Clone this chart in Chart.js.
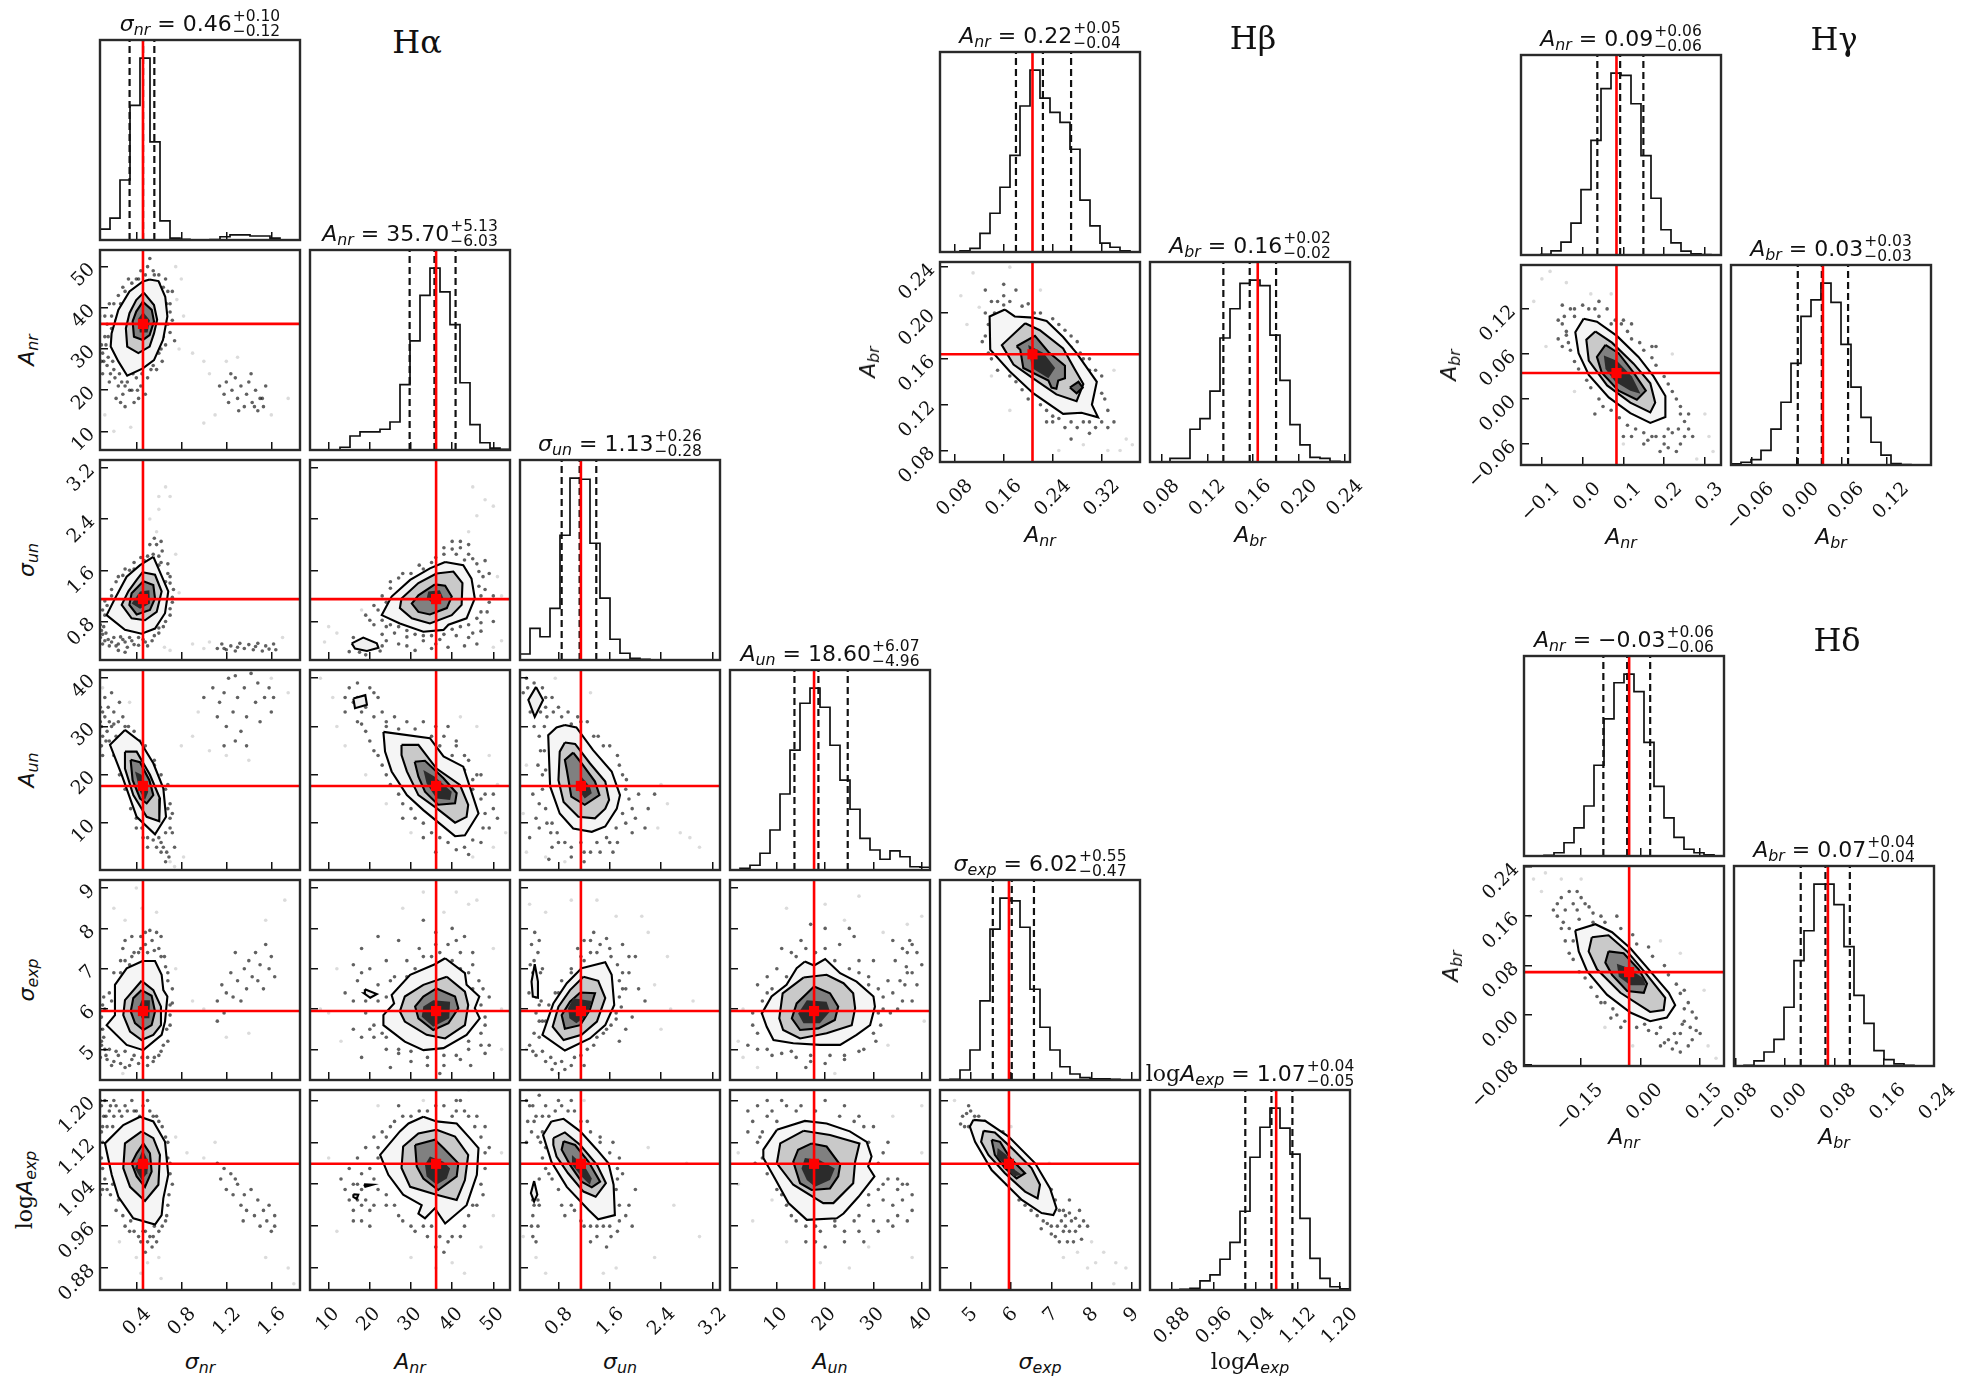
<!DOCTYPE html>
<html>
<head>
<meta charset="utf-8">
<script src="https://cdn.jsdelivr.net/npm/chart.js@4"></script>
<style>
body { margin: 0; background: #fff; }
#page { position: relative; width: 1987px; height: 1390px; overflow: hidden; background: #fff; }
canvas { position: absolute; }
.txt { position: absolute; white-space: nowrap; color: #111; font-family: "DejaVu Sans"; line-height: 1; }
.txt i { font-style: oblique; }
.txt sub { font-size: .72em; font-style: oblique; vertical-align: -.28em; line-height: 0; }
.log { font-family: "DejaVu Serif"; }
.ss { display: inline-flex; flex-direction: column; vertical-align: 10px; font-size: 15.5px; line-height: .98; margin-left: 1px; text-align: left; }
.title { font-size: 22px; transform: translateX(-50%); }
.xlab { font-size: 22px; transform: translate(-50%, -50%); }
.ylab { font-size: 22px; transform: translate(-50%, -50%) rotate(-90deg); }
.head { font-family: "DejaVu Serif"; font-size: 32px; transform: translate(-50%, -50%); }
</style>
</head>
<body>
<div id="page"></div>
<script>
// tick values
const ticks_snr = [0.4, 0.8, 1.2, 1.6];
const ticks_anr = [10, 20, 30, 40, 50];
const ticks_sun = [0.8, 1.6, 2.4, 3.2];
const ticks_aun = [10, 20, 30, 40];
const ticks_sexp = [5, 6, 7, 8, 9];
const ticks_la = [0.88, 0.96, 1.04, 1.12, 1.20];
const ticks_anr_b = [0.08, 0.16, 0.24, 0.32];
const ticks_abr_b = [0.08, 0.12, 0.16, 0.20, 0.24];
const ticks_anr_g = [-0.1, 0.0, 0.1, 0.2, 0.3];
const ticks_abr_g = [-0.06, 0.00, 0.06, 0.12];
const ticks_anr_d = [-0.15, 0.00, 0.15];
const ticks_abr_d = [-0.08, 0.00, 0.08, 0.16, 0.24];

// histograms, 20 bins over the axis range, peak = 100
const hist_snr = [6,12,33,74,100,54,10.5,1,0.3,0,0,0.2,1.8,2.8,2.8,2.2,2.2,1,0,0];
const hist_anr = [0,0,0,1.5,7.7,10,10,11.4,15.4,36,60,85,100,87,69,37,14,4,1,0.4];
const hist_sun = [3.3,17.4,12.8,28.4,68.6,100,99.4,64.2,34,11.4,3.7,0.9,0.4,0,0,0,0,0,0,0];
const hist_aun = [0,0.9,2.6,9.2,22,41.8,65.9,91.7,100,89.5,68.6,49.4,33.4,17.4,11,5.9,10.5,7.3,1.8,1.5];
const hist_sexp = [0,0.4,5.5,16.5,43.5,83,100,98.5,84,49.9,29,16.5,7.3,3.3,1.3,0.6,0.6,0.3,0,0];
const hist_la = [0,0,0,0.4,0.9,5,8.3,16.9,26.2,43.3,73,89.5,100,89,74.7,39.4,17.4,6.4,1.8,0.6];
const hist_anr_b = [0,0,0.6,2,10.2,21.3,35.6,53.1,80.3,100,84.6,76.8,71.3,56.5,28.5,14.4,4.9,2.6,0.6,0];
const hist_abr_b = [0,0,2,2,18,23.9,39,68.2,84.3,98.2,100,97,69.8,44.9,20.6,9.4,2.5,2,0.4,0];
const hist_anr_g = [0,0,0.4,2.3,7.1,17.5,36,63,91.5,100,98.8,83.2,54.7,31.2,13.9,6.7,2.1,0.6,0.2,0];
const hist_abr_g = [0.6,1.5,3,8,19.7,34.5,55.9,81.7,90.8,100,89.4,66.3,42.8,26.2,12.5,5.4,0.8,0.2,0,0];
const hist_anr_d = [0,0,0.4,1.8,7.3,15.5,27.5,49.9,75.4,95.3,100,90.4,62.5,38.3,21,10.2,3.7,1.8,0.6,0];
const hist_abr_d = [0,0.4,2.8,7.7,14.6,32.3,58,74.4,100,100,88.8,65.7,38.8,23.4,8.5,3.5,1.2,0.4,0,0];

// density contours, flat x,y lists: outer, middle, inner, darkest core
const cont_anr_snr = [
 [.518,46.9,.597,46.5,.657,42.7,.676,37.9,.637,32.2,.557,27.3,.458,25.3,.319,23.5,.24,27,.172,30.6,.18,33.8,.24,39.5,.339,44,.458,46.4],
 [.466,43.7,.557,40.7,.585,37.1,.557,33.8,.518,30.6,.418,29,.319,30.6,.307,35,.339,38.7,.399,41.9],
 [.458,41.5,.537,39.5,.557,36.7,.518,33.4,.458,32.2,.379,33,.367,36.7,.399,39.1],
 [.46,39,.52,37,.5,34,.43,34,.42,37.5]];
const cont_sun_snr = [
 [.551,1.81,.596,1.63,.684,1.27,.655,.93,.566,.69,.447,.61,.299,.67,.136,.9,.21,1.16,.314,1.5,.433,1.68],
 [.456,1.57,.566,1.53,.625,1.27,.581,.95,.477,.82,.358,.85,.27,1.06,.329,1.27,.403,1.45],
 [.462,1.43,.551,1.37,.566,1.16,.521,.98,.403,.91,.338,1.06,.358,1.24],
 [.433,1.27,.516,1.29,.521,1.08,.433,1,.358,1.08]];
const cont_sun_anr = [
 [38.3,1.73,42.7,1.68,44.7,1.47,45.5,1.16,43.5,.85,39.1,.75,37.9,.67,33,.64,27.3,.77,22.9,.9,25.3,1.19,29.8,1.45,34.6,1.63],
 [36.2,1.55,40.3,1.58,42.5,1.4,42.3,1.06,39.9,.9,34.6,.77,30.2,.85,27.3,1.01,27.7,1.16,31.8,1.4],
 [35.8,1.38,38.3,1.36,39.9,1.19,38.7,1.01,34.6,.91,31.8,.95,30.2,1.08,31.8,1.21],
 [34.2,1.27,37,1.29,37.9,1.16,35.4,1.08,33.8,1.16]];
const isle_sun_anr = [15.6,.46,18.4,.55,21.7,.46,22.1,.39,19.3,.34,16.4,.38];
const cont_aun_snr = [
 [.299,29.3,.433,26.9,.551,22.4,.64,17.2,.664,11.3,.566,7.7,.403,11.3,.27,20,.166,26.2],
 [.299,24.8,.403,24.8,.521,20,.61,15.1,.604,10.4,.492,11.3,.373,15.8,.299,21.3],
 [.349,23.1,.433,22.6,.516,18.9,.551,15.8,.492,14.1,.433,15.1,.367,18.9],
 [.388,20.7,.447,20,.506,16.5,.477,14.8,.433,16.5]];
const cont_aun_anr = [
 [23.3,28.9,34.6,27.6,37.9,23.8,42.7,21.7,46.4,12,43.1,7.5,40.7,7.3,33,12.7,29,15.8,25.3,20.7,23.7,24.8],
 [27.7,26.2,31.8,26.2,36.2,21.3,41.9,17.9,43.9,13.8,43.5,11.3,40.7,10.1,36.2,13.1,31.8,15.8,29,20.7,27.7,24.1],
 [30.9,22.7,33.4,22.9,37.9,19.3,41.1,16.2,40.7,14.1,36.6,13.8,33.4,16.5,31.8,19.6],
 [33,21,35.8,19.6,39.9,16.5,39.5,14.8,36.2,15.1,33.8,18.2]];
const isle_aun_anr = [16,35.8,18.9,36.5,19.3,34.5,16.4,33.8];
const cont_aun_sun = [
 [.9,30.3,1.08,29.8,1.34,25.1,1.63,20.7,1.76,15.8,1.71,13,1.53,9.3,1.32,8.2,1.03,8.9,.82,12,.67,17.6,.64,28.2,.77,29.8],
 [.9,26.7,1.06,26.4,1.29,22.4,1.53,18.6,1.59,14.8,1.53,13,1.37,11,1.11,11.3,.88,14.4,.8,18.9,.82,24.8],
 [1.03,24.6,1.16,22.4,1.37,18.6,1.44,15.8,1.21,13.8,1,15.5,.93,21,.9,23.1],
 [1.16,19.6,1.29,17.6,1.32,16.2,1.21,15.1,1.11,16.9]];
const isle_aun_sun = [.45,38.2,.56,35.5,.43,32,.33,35.5];
const cont_sexp_snr = [
 [.456,7.19,.566,7.19,.625,6.85,.64,6.47,.676,6.31,.655,5.69,.625,5.36,.462,4.98,.314,5.11,.136,5.6,.21,5.85,.21,6.6,.314,7.01],
 [.447,6.7,.551,6.47,.619,6.06,.619,5.6,.551,5.36,.447,5.23,.344,5.44,.284,5.85,.299,6.22],
 [.447,6.47,.536,6.33,.566,5.94,.536,5.6,.462,5.48,.388,5.65,.35,5.94,.373,6.27],
 [.447,6.22,.521,6.22,.516,5.77,.447,5.77,.418,6.02]];
const cont_sexp_anr = [
 [38.3,7.26,43.1,6.89,43.5,6.6,46.6,6.31,45.5,6.02,46.7,5.77,43.5,5.36,37.9,5.03,33,4.98,28.5,5.19,23.3,5.6,23.3,5.85,25.9,6.14,25.3,6.35,29.8,6.85,35.8,7.11],
 [38.7,6.8,43.1,6.43,43.9,6.1,43.1,5.6,38.3,5.27,33.8,5.36,28.5,5.69,27.3,5.94,28.5,6.31,33,6.6],
 [36.2,6.51,40.7,6.31,41.5,6.02,39.1,5.65,35.4,5.48,31.8,5.77,31,6.06,33,6.31],
 [35.4,6.22,39.5,6.18,39.3,5.77,35.4,5.56,32.6,5.81,33,6.06]];
const isle_sexp_anr = [18.8,6.49,21.7,6.37,20.1,6.28,18.6,6.39];
const cont_sexp_sun = [
 [1.16,7.01,1.53,7.16,1.63,6.85,1.67,6.1,1.53,5.6,1.29,5.27,.9,4.97,.55,5.36,.72,6.14,.93,6.64],
 [1.19,6.8,1.42,6.7,1.53,6.27,1.4,5.69,1.16,5.36,.88,5.23,.71,5.56,.8,6.06,.98,6.47],
 [1.14,6.41,1.37,6.39,1.29,5.98,1.14,5.6,.9,5.51,.85,5.85,.98,6.18],
 [1.03,6.27,1.32,6.2,1.25,5.85,1.08,5.65,.97,5.77,.95,6.02]];
const isle_sexp_sun = [.43,7.11,.48,6.68,.48,6.28,.4,6.31,.38,6.68];
const cont_sexp_aun = [
 [15.8,7.18,17.7,7.08,20,7.24,23.1,6.89,26.5,6.68,30,6.31,30.3,6.06,29.3,5.6,26.5,5.36,23.1,5.11,18.9,5.11,13.4,5.15,9.3,5.23,7.9,5.56,6.9,5.89,8.9,6.31,12,6.6,14.1,7.01],
 [15.5,6.78,20.3,6.85,23.8,6.64,25.8,6.39,26.2,6.02,25.5,5.6,20.3,5.4,14.8,5.27,11.3,5.48,10.5,5.77,11.2,6.39],
 [17.7,6.56,21,6.39,22.7,6.06,22,5.73,18.6,5.52,14.8,5.48,13.1,5.77,14.1,6.14],
 [16.2,6.22,20.3,6.18,21,5.94,18.9,5.65,15.5,5.65,14.4,5.89]];
const cont_la_snr = [
 [.433,1.169,.551,1.16,.655,1.121,.684,1.058,.64,1.013,.625,.981,.566,.963,.373,.975,.24,1.016,.181,1.058,.121,1.118,.284,1.153],
 [.447,1.141,.551,1.128,.61,1.096,.596,1.039,.477,1.008,.344,1.035,.284,1.071,.299,1.118],
 [.462,1.118,.521,1.099,.536,1.064,.477,1.035,.403,1.055,.358,1.08,.403,1.099],
 [.456,1.106,.507,1.083,.498,1.061,.447,1.048,.388,1.07]];
const cont_la_anr = [
 [33,1.169,36.2,1.16,41.1,1.156,44.3,1.128,46.4,1.109,46,1.058,43.5,1,38.3,.965,35.8,.994,33.4,.975,31.8,.984,32.6,1,28.1,1.02,24.5,1.058,22.5,1.096,27.3,1.141,29.4,1.156],
 [36.2,1.144,40.7,1.131,43.9,1.096,43.1,1.048,41.1,1.01,36.2,1.02,29.8,1.035,27.7,1.071,28.1,1.112,31.8,1.137],
 [31,1.115,35.8,1.125,37.9,1.109,41.5,1.08,41.1,1.055,36.6,1.029,33,1.051,31.4,1.074],
 [34.6,1.093,37.9,1.083,39.5,1.07,38.7,1.051,36.2,1.039,33.8,1.055,33.4,1.077]];
const isle_la_anr = [16,1.021,17.2,1.02,16.8,1.012,16,1.016];
const isle2_la_anr = [18.6,1.04,20.7,1.039,18.9,1.035];
const cont_la_sun = [
 [.69,1.16,.88,1.165,1.14,1.141,1.4,1.106,1.58,1.08,1.66,1.039,1.68,.981,1.42,.973,1.27,.991,.93,1.035,.69,1.083,.56,1.134],
 [.72,1.128,.9,1.139,1.14,1.115,1.4,1.077,1.54,1.042,1.38,1.016,1.19,1.026,.95,1.061,.77,1.093,.72,1.115],
 [.88,1.122,1.06,1.115,1.27,1.083,1.45,1.045,1.32,1.034,1.16,1.045,.98,1.077,.85,1.106],
 [1.01,1.096,1.21,1.074,1.32,1.051,1.29,1.039,1.16,1.055,1.01,1.077]];
const isle_la_sun = [.42,1.046,.47,1.02,.42,1.007,.37,1.023];
const cont_la_aun = [
 [10,1.144,15.8,1.161,20.3,1.156,25.1,1.141,28.6,1.121,29.6,1.093,28.9,1.074,30.2,1.055,26.9,1.016,23.8,.984,22.4,.975,16.2,.972,12.4,1.004,9.6,1.051,7.2,1.09,7.2,1.106],
 [15.5,1.142,21,1.134,27.1,1.118,26.2,1.083,25.8,1.042,21.7,1.004,19.6,1.004,13.4,1.039,10,1.08,10.7,1.118],
 [17.2,1.118,20.3,1.112,23.1,1.077,22.7,1.055,21,1.032,17.2,1.029,14.8,1.042,13.4,1.083,14.4,1.106],
 [15.8,1.09,18.9,1.086,22,1.07,21,1.048,17.9,1.035,16.2,1.048,15.1,1.07]];
const cont_la_sexp = [
 [5.07,1.163,5.36,1.161,5.94,1.131,6.6,1.08,6.97,1.032,7.13,.994,7.05,.981,6.76,.985,6.27,1.01,5.52,1.067,5.11,1.121,4.98,1.15],
 [5.32,1.142,5.6,1.139,6.02,1.109,6.51,1.071,6.72,1.039,6.66,1.013,6.35,1.026,5.85,1.061,5.44,1.096,5.26,1.121],
 [5.52,1.125,5.73,1.121,5.98,1.09,6.35,1.061,6.14,1.051,5.85,1.071,5.6,1.096],
 [5.67,1.109,5.89,1.096,6.1,1.067,6.27,1.058,6.06,1.055,5.81,1.08,5.65,1.093]];
const cont_b = [
 [.162,.203,.178,.197,.208,.196,.23,.193,.257,.179,.279,.165,.312,.14,.304,.12,.314,.109,.287,.113,.257,.112,.208,.13,.17,.149,.138,.168,.137,.197],
 [.195,.191,.219,.185,.257,.169,.276,.151,.29,.138,.279,.123,.246,.129,.208,.143,.176,.155,.157,.172],
 [.181,.171,.211,.18,.233,.166,.26,.154,.26,.143,.249,.141,.246,.134,.238,.135,.233,.141,.192,.152,.187,.168],
 [.2,.172,.225,.165,.244,.152,.233,.143,.206,.152]];
const isle_b = [.268,.135,.282,.14,.289,.135,.279,.13];
const cont_g = [
 [.0025,.107,.035,.103,.084,.084,.137,.056,.174,.03,.203,.004,.203,-.024,.166,-.032,.117,-.019,.064,.002,.015,.032,-.01,.061,-.018,.089],
 [.031,.09,.072,.075,.125,.047,.166,.021,.178,-.005,.166,-.018,.117,-.005,.06,.018,.015,.051,.009,.079],
 [.056,.072,.088,.061,.125,.035,.155,.011,.133,-.001,.088,.011,.047,.035,.035,.056],
 [.052,.058,.084,.051,.121,.03,.142,.007,.117,.011,.08,.023,.056,.04]];
const cont_d = [
 [-.165,.137,-.114,.147,-.072,.134,-.026,.108,.024,.071,.071,.036,.087,.016,.066,-.004,.024,-.01,-.026,.004,-.085,.033,-.135,.071,-.156,.103],
 [-.123,.126,-.081,.129,-.034,.103,.016,.065,.062,.028,.058,.008,.024,.005,-.051,.036,-.11,.074,-.131,.103],
 [-.081,.103,-.043,.1,-.005,.074,.016,.051,.008,.036,-.034,.039,-.072,.065,-.089,.085],
 [-.06,.083,-.034,.077,.008,.059,.012,.048,-.026,.048,-.055,.062]];

// samples outside the contours, read by eye
const dark_anr_snr = [.12,33,.1,29,.14,26,.1,24,.16,22,.2,25,.24,21,.28,19,.22,18,.32,22,.36,20,.4,23,.44,21,.5,23,.55,26,.6,29,.63,27,.66,31,.7,34,.72,37,.7,41,.68,44,.66,47,.6,48,.55,49,.5,50,.44,49,.4,47,.33,47,.28,45,.24,43,.2,41,.18,38,.14,36,.09,31,.3,16,.42,18,.62,44,.52,52,
 1.14,21,1.18,19,1.2,22,1.22,17,1.25,20,1.28,23,1.3,18,1.33,21,1.36,16,1.38,19,1.4,22,1.43,17,1.46,20,1.48,15,1.5,18,1.53,16,1.55,21,1.42,24,1.31,15,1.24,24,1.52,18,1.45,16,
 .11,27,.13,31,.15,28,.17,24,.19,27,.21,23,.25,24,.27,22,.3,21,.34,20,.37,24,.41,20,.45,24,.48,19,.53,25,.58,25,.62,30,.64,33,.68,36,.7,39,.67,41,.64,45,.6,46,.56,48,.48,48,.42,47,.36,46,.3,44,.26,41,.22,37,.18,35,.15,33,.12,38,.16,41,.09,27,.26,17,.38,17,.33,25,.74,32,.72,44];
const light_anr_snr = [.08,38,.76,42,.82,38,.9,29,1,27,1.05,24,1.1,14,1.2,27,1.3,28,1.6,14,1.75,18,.8,47,.75,50,.35,11,.2,10,.12,14,.78,30,1,12];
const dark_sun_snr = [.1,.6,.08,.75,.12,.5,.16,.42,.2,.55,.24,.45,.28,.52,.32,.4,.36,.5,.42,.43,.48,.48,.54,.5,.6,.62,.64,.72,.7,.9,.72,1.1,.73,1.3,.7,1.5,.68,1.7,.63,1.9,.58,2,.52,2,.47,1.75,.38,1.72,.3,1.62,.24,1.5,.18,1.3,.12,1.12,.1,.98,.66,1.42,.6,1.82,
 1.12,.38,1.16,.45,1.2,.36,1.24,.42,1.28,.34,1.32,.46,1.36,.38,1.4,.44,1.44,.36,1.48,.46,1.52,.34,1.55,.42,1.58,.37,1.62,.45,1.64,.36,1.3,.4,1.18,.38,1.46,.41,
 .09,.66,.11,.72,.13,.62,.15,.52,.18,.48,.22,.42,.26,.56,.3,.48,.34,.55,.38,.44,.42,.55,.46,.52,.5,.42,.56,.58,.6,.7,.66,.8,.7,1,.72,1.18,.7,1.4,.68,1.55,.62,1.72,.6,1.68,.55,1.85,.5,1.82,.44,1.8,.38,1.62,.34,1.6,.28,1.52,.22,1.42,.18,1.2,.14,1.05,.12,.9,.08,.55,.1,.45,.24,.35,.3,.32,.56,2.1,.62,2.05];
const light_sun_snr = [.52,2.4,.6,2.55,.66,2.9,.7,2.75,.6,2.75,.58,2.2,.75,1.85,.78,1.25,.9,.45,1,.38,1.05,.48,1.7,.55,.65,.4,.7,.35];
const dark_sun_anr = [22,.98,20,.82,19,.9,21,.75,24,.72,26,.62,29,.56,33,.5,37,.52,41,.58,45,.62,47,.78,48.5,.95,49,1.1,48,1.3,47.5,1.5,46,1.7,44,1.85,40,1.93,36,1.8,32,1.68,28,1.55,25,1.42,42,2.05,38,1.95,23,.6,27,.45,31,.35,43,.42,46,.45,50,.8,49,1.55,16,.55,21,.42,19,.28,15,.33,24,.5,39,.4,35,.38,
 23,.82,25,.75,27,.72,29,.66,31,.6,33,.58,35,.58,38,.6,40,.68,42,.72,44,.75,46,.85,47,.95,47,1.2,46.5,1.35,46.5,1.58,45,1.78,43,1.76,41,1.85,38,1.85,35,1.72,33,1.62,30,1.55,27,1.48,25,1.32,23,1.2,21,1.05,24,1.1,36,.45,44,.55,47,.65,42,1.95,44,2,40,2.05,48,1.75,50,1.2,29,.42,23,.42,17.5,.32,22.5,.34];
const light_sun_anr = [44,2.2,46,2.45,48,2.7,45,2.9,50,2.6,51,1.5,52,1.2,12,.62,10,.72,9,.48,18,.98,28,1.3,52,.5,50,.4];
const dark_aun_snr = [.09,30,.12,32,.1,28,.15,34,.2,33,.24,31,.28,32,.33,30,.38,29,.43,27,.48,26,.56,23,.62,20,.68,18,.7,14,.72,12,.7,9,.62,6,.58,5,.5,5,.46,7,.4,9,.35,13,.3,17,.25,20,.2,24,.13,27,.09,26,.64,5,.67,4,.69,3,.56,22,
 1,36,1.08,38,1.14,35,1.12,32,1.18,37,1.2,30,1.22,40,1.26,33,1.3,36,1.33,29,1.36,38,1.38,32,1.42,41,1.46,35,1.48,39,1.5,31,1.54,36,1.58,38,1.6,33,1.62,36,1.28,27,1.38,26,1.18,26,1.28,40.5,
 .1,24,.14,29,.18,30,.22,28,.26,28,.3,30,.35,27.5,.4,26,.44,24.5,.5,24,.55,21.5,.6,19,.66,17,.68,13,.7,11,.66,8,.6,7,.55,6.5,.5,7,.45,9,.4,11,.36,15,.32,18,.28,22,.23,24,.16,27,.1,33,.16,31,.2,30.5,.62,4,.72,8,.74,5,.66,2,.08,31,.12,36,.18,37,.25,35,.08,34];
const light_aun_snr = [.7,2,.74,1,.82,3,.95,33,.9,28,.8,26,1.05,25,1.2,24,1.4,23,1.6,40,1.75,37,.34,35,.1,38];
const dark_aun_anr = [15,38,17,39,20,38,22,36,14,33,17,31,19,29,21,32,23,33,26,32,29,31,33,31,36,30,38,28,41,26,44,23,46,20,48,16,50,13,49,9,47,6,43,5,39,6,35,8,31,11,28,14,25,18,23,22,21,25,19,34,14,36,24,30,43,24,45,17,
 24,31,27,29.5,31,29.5,35,28,37,26,40,24,43,21,45,19,47,15,48,12,47.5,9,45,6.5,41,4.5,37,7,33,10,30,13,27,16,24,20,22,24,20,27,18,33,16,35,21,37,24,27,26,24,17,36,18,30.5,50,16,47,20,51,11,36,4,33,7,28,11,44,3.5,41,27,39,30];
const light_aun_anr = [11,36,8,40,12,30,14,26,19,20,24,14,30,8,45,3,50,5,53,8,51,18,49,24,46,30,42,32];
const dark_aun_sun = [.3,40,.42,39,.55,38,.48,35,.25,37,.62,32,.36,33,.42,30,.5,28,.58,25,.6,21,.55,17,.6,13,.7,10,.78,8,.9,6,1,5,1.2,4,1.4,6,1.55,7,1.7,9,1.8,12,1.9,15,1.86,19,1.75,22,1.6,26,1.42,28,1.25,31,1.1,32,.95,33,.8,34,.7,36,2,11,2.2,13,1.95,8,1.65,4,.4,16,.35,7,
 .45,36,.52,33,.32,38,.38,35.5,.6,36,.58,30,.52,25,.48,22,.55,20,.5,14,.62,10,.68,8,.8,6,1,3,1.15,6,1.3,4,1.45,4,1.6,6,1.72,6,1.85,10,1.95,13,1.85,17,1.8,20,1.72,24,1.5,26,1.35,28,1.15,31,1,30.5,.85,32,.72,33,.6,34,2.05,16,2.15,9,.5,9,.7,5,.45,11,.65,2.5,1.2,2,2.3,16];
const light_aun_sun = [.25,12,.3,4,.6,3,.9,2,2.35,9,2.5,14,2.7,8,3,5,2.4,18,2.85,7,.3,22,.75,40,1.3,37];
const dark_sexp_snr = [.1,5.5,.12,5,.08,4.8,.14,4.75,.2,4.7,.24,4.85,.3,4.55,.36,4.75,.42,4.65,.5,4.6,.56,4.8,.62,4.95,.68,5.2,.7,5.6,.7,6.1,.72,6.5,.68,6.9,.65,7.3,.6,7.5,.54,7.7,.48,7.9,.44,7.5,.38,7.4,.3,7.7,.26,7.2,.2,6.9,.16,6.4,.1,6.1,.09,5.8,.34,7.1,.58,7.9,
 1.12,6.2,1.16,6.6,1.2,6.4,1.24,6.9,1.26,6.3,1.3,6.7,1.33,6.2,1.36,7,1.38,6.5,1.4,7.2,1.43,6.8,1.46,7.4,1.48,6.7,1.5,7.1,1.53,6.5,1.55,7.6,1.58,7,1.6,7.3,1.63,6.8,1.28,7.4,1.18,5.9,1.12,5.7,
 .11,5.3,.13,4.85,.16,5,.18,4.6,.22,4.95,.26,4.65,.3,4.95,.34,4.6,.38,4.85,.45,4.8,.5,4.8,.55,4.7,.6,4.85,.64,5.1,.67,5.5,.7,5.85,.72,6.15,.68,6.7,.66,7.05,.62,7.3,.56,7.45,.5,7.4,.42,7.4,.36,7.3,.3,7.2,.26,6.9,.22,6.6,.18,6.2,.12,6,.08,5.5,.09,5.1,.52,7.95,.44,7.8,.36,7.8,.28,7.5,.62,7.8,.48,7.6,.09,5.2,.11,6.3];
const light_sexp_snr = [.3,8.2,.45,8.5,.4,9,.58,8.4,.2,8.5,.75,7,.9,6.2,1,6,1.2,5.3,1.4,5.4,1.55,8.2,1.72,8.7,.28,4.4];
const dark_sexp_anr = [16,7.1,18,7.5,20,7,22,7.8,24,7.2,14,6.4,17,6.7,22,6.2,19,5.9,16,5.5,21,5.3,24,5,27,4.9,30,4.7,34,4.6,38,4.6,42,4.75,44,5,47,5.4,48,5.8,49,6.3,46.5,6.7,45,7.1,42,7.4,39,7.6,36,7.9,32,7.5,29,7.2,26,6.8,27,7.7,40,8,43,7.8,37,4.4,25,4.55,18,4.8,48,4.9,33,8.2,
 18,6.9,20,6.4,22,6.6,24,6.3,25,6.7,27,6.5,29,6.8,31,7,33,7.3,35,7.3,37,7.4,40,7.2,42,7,44,6.9,45,6.5,47.5,6.5,47,6.1,48,5.6,47,5.1,44,5.2,41,4.85,38,4.85,34,4.8,30,4.95,27,5,24,5.3,21,5.6,19,6.2,20,5.5,23,5.4,16,6.2,18,5.3,36,7.6,41,7.7,45,7.4,49,5.1,44.5,4.6];
const light_sexp_anr = [33,8.9,38,8.4,41,8.9,44,8.6,12,7,10,5.9,8,6,13,5.2,50,7.5,52,6,52,5,46,8.7,28,8.5];
const dark_sexp_sun = [.43,7.9,.38,7.6,.48,7.4,.36,7.1,.52,6.9,.42,6.6,.53,6.2,.34,6.4,.45,5.9,.6,5.7,.5,5.3,.35,5.1,.45,4.85,.6,4.7,.75,4.65,.9,4.5,1.05,4.8,1.25,5,1.4,5.3,1.55,5.5,1.7,5.9,1.75,6.3,1.75,6.7,1.72,7.1,1.6,7.5,1.45,7.6,1.3,7.4,1.15,7.3,1,6.9,.8,6.4,1.35,7.9,1.2,7.7,1.85,6.5,1.9,6.9,1.95,5.8,1.75,5.2,1.8,7.6,2,7.3,
 .5,7.7,.42,7.2,.55,7,.4,6.9,.45,6.3,.5,6.1,.55,5.7,.5,5.7,.42,5.4,.4,4.95,.55,4.95,.68,4.8,.85,4.7,1,4.6,1.15,4.85,1.35,5.1,1.5,5.4,1.62,5.6,1.7,5.75,1.78,6.05,1.8,6.5,1.8,6.9,1.62,7.3,1.4,7.4,1.2,7.2,1,7,.85,6.7,.75,6.4,.65,6.1,1.55,7.75,1.3,7.7,1.1,7.5,1.9,7.3,2.05,6.5,1.85,5.5,.7,4.5,1.2,4.6,2.15,6.2];
const light_sexp_sun = [2.2,7.9,2.3,6.6,2.1,8.3,1.7,8.3,1.4,8.7,2.5,7.3,2.55,6,2.4,5.5,2.9,6.2,.3,5,.35,8.6,.6,8.4,.8,4.4,1,8.7];
const dark_sexp_aun = [10,7,13,7.4,15,7.7,12,6.8,9,6.5,7,6.2,5,5.9,6,5.4,4,5.1,8,5,11,4.9,14,4.8,17,4.7,20,4.65,24,4.75,28,5,30,5.4,31,5.9,32,6.3,33,6.7,34.5,7.2,36,7.5,37,6.9,38,7.6,39,6.6,40,7.1,36,6.2,35,6,29,6.8,27,7.2,23,7.6,20,8,17,8.1,26,7.8,37.5,7.7,36.8,7.05,
 6,6.6,8,6.8,11,7.5,14,7.3,16,7.5,18,7.4,20,7.5,22,7.2,25,7,27,6.9,29,6.6,31,6.5,32,6,31.5,5.6,30.5,5.2,27,4.95,24,4.85,21,4.85,17,4.85,13,4.95,9,4.85,6,5,5,5.6,7,5.9,8,6.4,34,6.4,36.5,6.6,38,6.9,39,7.4,37,7.4,35.5,6.7,33.5,5.9,38,6.2,16,4.55,25,8,30,7.2,34,7.7];
const light_sexp_aun = [3,6,2,5.2,3,4.8,6,4.55,12,8.5,20,8.6,24,8.2,32,7.9,37,8.1,40,8.3,40.5,5.7,33,5.1,22,4.4,27,8.8];
const dark_la_snr = [.09,1.19,.13,1.17,.1,1.15,.17,1.19,.2,1.17,.25,1.18,.3,1.19,.36,1.2,.4,1.18,.46,1.19,.52,1.18,.58,1.17,.63,1.15,.68,1.12,.7,1.08,.72,1.04,.68,1,.66,.97,.6,.95,.55,.94,.5,.93,.46,.95,.38,.95,.3,.96,.22,.99,.17,1.02,.12,1.05,.09,1.09,.1,1.12,.08,1.02,
 1.12,1.08,1.15,1.05,1.18,1.07,1.2,1.03,1.24,1.06,1.26,1.02,1.3,1.04,1.33,1,1.36,1.02,1.38,.99,1.42,1.03,1.45,.98,1.48,1.01,1.5,.96,1.53,.99,1.56,.97,1.58,1,1.6,.95,1.63,.98,1.63,.96,1.28,1.05,1.35,.97,
 .11,1.17,.14,1.15,.16,1.18,.19,1.15,.22,1.19,.27,1.17,.32,1.18,.38,1.18,.43,1.17,.5,1.2,.55,1.17,.6,1.16,.66,1.13,.68,1.09,.7,1.06,.69,1.02,.67,.98,.63,.96,.58,.93,.54,.92,.48,.95,.42,.94,.35,.97,.28,.98,.24,1.01,.19,1.04,.14,1.03,.1,1.07,.09,1.14,.1,1.03,.48,.91,.52,.94,.44,.93,.56,.96,.34,.95,.12,1.2,.08,1.2,.2,1.2];
const light_la_snr = [.4,.9,.5,.89,.44,.87,.6,.9,.62,.86,.25,.93,.75,1.13,.85,1.1,1,1.09,1.1,1.12,1.55,.9,1.75,.88,1.8,.85];
const dark_la_anr = [13,1.05,15,1.07,17,1.09,19,1.11,21,1.13,17,1.04,15,1.01,18,1,16,.97,20,.96,22,1.03,24,1,27,.98,30,.96,33,.96,37,.94,40,.94,43,.96,45,1,47,1.04,48,1.07,49,1.11,48,1.15,46,1.17,43,1.18,40,1.17,36,1.19,32,1.18,28,1.17,25,1.15,23,1.14,27,1.19,42,1.2,16,.99,
 18,1.06,20,1.07,22,1.09,21,1.05,18,1.03,14,1.03,16,1.04,19,1.01,20,.99,24,1.02,26,1,28,.97,31,.95,34,.94,36,.92,39,.93,42,.94,44,.98,46,1,47.5,1.02,48,1.1,47,1.13,45.5,1.15,44,1.17,41,1.18,38,1.19,34,1.18,30,1.17,26,1.16,24,1.13,22,1.11,17,1.01,18,.97,21,1,38,.91,35,.96,41,1.2];
const light_la_anr = [10,1.09,22,1.19,12,.95,30,.9,36,.88,40,.89,43,.87,52,1.1,50,.98,47,.92,33,1.2,44,1.22];
const dark_la_sun = [.3,1.2,.4,1.19,.5,1.21,.6,1.19,.45,1.17,.32,1.16,.55,1.14,.3,1.12,.55,1.09,.6,1.07,.7,1.05,.85,1,.5,1,.4,.98,.48,.96,.4,.94,1.05,.99,1.2,.96,1.4,.96,1.6,.96,1.75,.97,1.7,1.03,1.75,1.09,1.65,1.12,1.45,1.13,1.25,1.16,1.05,1.18,.85,1.19,1.9,1,1.95,.96,1.55,.92,1.3,.93,2,1.03,
 .35,1.19,.42,1.16,.55,1.17,.65,1.17,.48,1.13,.38,1.14,.52,1.12,.6,1.11,.5,1.05,.65,1.06,.8,1.03,.48,1.01,.42,1,.38,.96,.9,.98,1,1,1.15,.97,1.3,.96,1.5,.96,1.62,.94,1.72,.95,1.75,1,1.72,1.05,1.72,1.07,1.6,1.1,1.45,1.12,1.3,1.14,1.15,1.16,.95,1.18,.75,1.18,.8,1.2,1,1.2,1.85,.98,1.4,.94,1.8,1.06,.45,.93,.4,1.01];
const light_la_sun = [.25,.94,.45,.9,.6,.87,2.3,.9,2.6,1,2.8,1.08,3,.94,1.7,.88,1.5,.87,2.2,1.11,1.2,1.2];
const dark_la_aun = [4,1.18,6,1.19,9,1.18,12,1.19,4,1.14,6,1.12,8,1.1,5.5,1.08,8,1.06,10,1.03,12,1,14,.97,18,.96,22,.96,26,.97,27,.95,29,1,31,1.03,33,1.05,35,1.03,36,1.01,38,1.02,35,.98,33,.97,37,.97,31,.95,32,1.1,33,1.12,30,1.15,27,1.17,24,1.19,20,1.2,14,1.18,16,.93,20,.92,36,1.04,
 5,1.16,7,1.14,8,1.17,10,1.16,7,1.09,9,1.08,6.5,1.13,10,1.05,11,1.02,13,.98,16,.96,19,.95,22,.97,24,.95,27,.98,29,1.02,30,.97,32,1.01,32,1.04,34,1,37,1.04,31,1.08,29,1.12,28,1.15,26,1.16,23,1.17,18,1.18,15,1.19,11,1.2,8,1.2,35,1.05,38,.99,34,.96,18,.93,24,.93,28,.93];
const light_la_aun = [2,1.1,2,1.04,5,.97,9,1.01,12,.93,19,.89,25,.88,29,.92,38,.9,40,1.1,40,1.19,34,1.17];
const dark_la_sexp = [5,1.18,4.8,1.17,4.95,1.19,4.85,1.15,5.2,1.17,5.5,1.15,5.8,1.14,6.1,1.11,6.4,1.09,6.7,1.06,7,1.03,7.2,.99,7.35,.98,7.5,.97,7.7,.99,7.8,.97,7.6,.95,7.3,.95,7,.96,6.8,.97,6.5,.99,6.2,1.01,5.9,1.04,5.6,1.08,5.3,1.11,5.05,1.14,7.1,.94,7.4,.93,7.9,.96,7.45,1.01,
 4.9,1.175,5.1,1.17,5.35,1.16,5.65,1.14,5.95,1.125,6.25,1.1,6.55,1.07,6.85,1.04,7.1,1.01,7.3,.99,7.45,.985,7.6,.975,7.35,.96,7.15,.96,6.9,.965,6.65,.98,6.35,1,6.05,1.03,5.75,1.06,5.45,1.09,5.15,1.13,4.95,1.15,4.75,1.155,7.2,.93,7.55,.93,7.7,.96,7.25,.97,7.45,.95,7.75,.935,6.75,.955,7,.945];
const light_la_sexp = [4.6,1.2,7.65,.91,8,.93,8.3,.91,8.6,.89,8.85,.88,8.55,.85,8.1,.89,7.3,.9,7.9,.88,6,1.15,6.95,1.08];
const dark_b = [.13,.2,.15,.21,.16,.207,.18,.22,.19,.206,.21,.2,.24,.195,.26,.185,.28,.175,.29,.16,.31,.15,.32,.13,.33,.115,.31,.1,.29,.105,.27,.105,.24,.11,.22,.12,.19,.133,.17,.145,.14,.16,.13,.18,.3,.16,.27,.17,.25,.108,.34,.105,.16,.225,.13,.22,
 .135,.19,.145,.2,.17,.21,.2,.208,.22,.2,.25,.19,.27,.18,.285,.165,.3,.15,.32,.145,.325,.125,.32,.105,.3,.095,.28,.1,.26,.1,.23,.115,.2,.125,.18,.14,.15,.15,.135,.165,.125,.175,.16,.215,.24,.105,.3,.105,.33,.1,.23,.105,.27,.09,.14,.21];
const light_b = [.09,.215,.11,.235,.12,.205,.17,.24,.2,.245,.22,.22,.36,.09,.37,.085,.35,.08,.33,.08,.29,.085,.25,.08,.34,.15,.14,.145,.1,.19,.17,.115];
const dark_g = [-.05,.1,-.03,.12,-.05,.125,0,.125,.03,.12,.06,.12,.08,.105,.11,.09,.14,.075,.17,.055,.2,.03,.22,.01,.24,-.01,.25,-.03,.22,-.045,.2,-.05,.17,-.05,.13,-.04,.09,-.025,.05,-.01,.02,.015,-.01,.04,-.03,.065,-.04,.085,-.06,.08,.15,-.06,.19,-.07,.25,-.05,.23,-.07,.26,-.02,-.02,.11,.1,.105,.18,.07,.12,-.05,
 -.04,.09,-.045,.11,-.02,.12,.015,.12,.04,.11,.07,.1,.095,.1,.12,.08,.15,.065,.18,.045,.21,.02,.23,0,.24,-.02,.235,-.04,.21,-.04,.18,-.05,.15,-.045,.11,-.035,.07,-.015,.04,0,.01,.025,-.02,.05,-.035,.075,-.05,.07,-.06,.105,.16,-.055,.21,-.065,.26,-.04,.27,-.05,.2,-.06,.24,-.06,.04,.13,.12,.1,.03,-.02,.1,-.05,.17,.07];
const light_g = [-.1,.16,-.12,.13,-.08,.17,-.04,.155,.02,.14,.07,.14,.3,-.02,.32,-.07,.28,-.08,.31,-.05,-.09,.07,-.02,.01,.1,-.06,.22,.06];
const dark_d = [-.2,.19,-.18,.2,-.21,.16,-.18,.14,-.16,.17,-.13,.175,-.1,.16,-.06,.16,-.02,.13,.02,.11,.06,.08,.09,.05,.12,.02,.11,-.01,.1,-.03,.07,-.04,.04,-.03,.01,-.015,-.04,-.01,-.07,.01,-.11,.03,-.14,.06,-.17,.09,-.19,.12,-.15,.19,-.12,.15,.14,-.005,.13,-.04,.08,-.055,.05,-.05,.1,-.06,-.22,.17,-.09,.02,.11,.04,
 -.19,.17,-.17,.18,-.195,.15,-.17,.12,-.155,.155,-.12,.165,-.09,.15,-.05,.14,-.01,.115,.03,.095,.07,.065,.1,.035,.11,.01,.105,-.015,.085,-.03,.05,-.02,.02,-.025,-.01,-.02,-.06,0,-.1,.02,-.125,.045,-.155,.07,-.18,.1,-.21,.18,-.14,.18,-.2,.14,.125,-.02,.14,-.025,.09,-.045,.06,-.045,.12,-.05,.15,-.03,-.075,-.005,-.16,.2,-.05,-.02,.13,.005];
const light_d = [-.27,.22,-.25,.2,-.24,.23,-.2,.22,-.15,.22,-.28,.16,.17,-.05,.19,-.07,.16,.04,.05,.12,.1,.1,-.02,-.05,-.09,-.02];

// parameter axes: range, ticks, decimals, true value, 16/50/84 percentiles, label
const P = {
  snr:  { min: .077, max: 1.855, ticks: ticks_snr, dec: 1, truth: .459, q: [.34, .46, .56], sym: 'σ', sub: 'nr' },
  anr:  { min: 5.47, max: 54.05, ticks: ticks_anr, dec: 0, truth: 36.1, q: [29.67, 35.7, 40.83], sym: 'A', sub: 'nr' },
  sun:  { min: .2, max: 3.32, ticks: ticks_sun, dec: 1, truth: 1.15, q: [.85, 1.13, 1.39], sym: 'σ', sub: 'un' },
  aun:  { min: .3, max: 41.7, ticks: ticks_aun, dec: 0, truth: 17.7, q: [13.64, 18.6, 24.67], sym: 'A', sub: 'un' },
  sexp: { min: 4.24, max: 9.2, ticks: ticks_sexp, dec: 0, truth: 5.95, q: [5.55, 6.02, 6.57], sym: 'σ', sub: 'exp' },
  la:   { min: .838, max: 1.22, ticks: ticks_la, dec: 2, truth: 1.079, q: [1.02, 1.07, 1.11], sym: 'A', sub: 'exp', log: true },
  anrB: { min: .056, max: .3825, ticks: ticks_anr_b, dec: 2, truth: .207, q: [.18, .224, .27], sym: 'A', sub: 'nr' },
  abrB: { min: .07, max: .2445, ticks: ticks_abr_b, dec: 2, truth: .164, q: [.134, .157, .18], sym: 'A', sub: 'br' },
  anrG: { min: -.1513, max: .3395, ticks: ticks_anr_g, dec: 1, truth: .083, q: [.036, .092, .149], sym: 'A', sub: 'nr' },
  abrG: { min: -.088, max: .1785, ticks: ticks_abr_g, dec: 2, truth: .0345, q: [.001, .033, .068], sym: 'A', sub: 'br' },
  anrD: { min: -.294, max: .2101, ticks: ticks_anr_d, dec: 2, truth: -.029, q: [-.094, -.034, .024], sym: 'A', sub: 'nr' },
  abrD: { min: -.0825, max: .2412, ticks: ticks_abr_d, dec: 2, truth: .0695, q: [.0255, .0655, .105], sym: 'A', sub: 'br' }
};

const SIZE = 200, PAD_L = 80, PAD_R = 40, PAD_T = 10, PAD_B = 70;
const page = document.getElementById('page');
const FILLS = ['#f5f5f5', '#c9c9c9', '#808080', '#2b2b2b'];
const RED = '#ff0000', INK = '#111111', FRAME = '#2a2a2a';

const frame = {
  id: 'frame',
  afterDraw(c) {
    const a = c.chartArea, g = c.ctx;
    g.save();
    g.strokeStyle = FRAME;
    g.lineWidth = 2.4;
    g.strokeRect(a.left, a.top, a.right - a.left, a.bottom - a.top);
    g.restore();
  }
};

const xy = flat => {
  const out = [];
  for (let i = 0; i < flat.length; i += 2) out.push({ x: flat[i], y: flat[i + 1] });
  return out;
};
const closed = flat => flat.concat(flat.slice(0, 2));
const fmt = (v, dec) => v.toFixed(dec).replace('-', '\u2212');

// axis box takes the whole margin so the labels are not clipped
const fitBox = (s, isX) => {
  if (isX) s.height = PAD_B; else s.width = PAD_L;
  s.paddingLeft = s.paddingRight = s.paddingTop = s.paddingBottom = 0;
};

function axisOpts(a, pos, showLabels, isX) {
  const len = Math.max.apply(null, a.ticks.map(v => fmt(v, a.dec).length));
  return {
    type: 'linear', position: pos, min: a.min, max: a.max,
    afterBuildTicks: s => { s.ticks = a.ticks.map(v => ({ value: v })); },
    afterFit: s => fitBox(s, isX),
    border: { display: false },
    grid: { drawOnChartArea: false, drawTicks: true, tickLength: -8, color: INK, lineWidth: 1.5 },
    ticks: {
      display: showLabels, autoSkip: false, minRotation: 45, maxRotation: 45,
      padding: isX ? 21 : 16,
      labelOffset: isX ? len * 3.8 : 0,
      color: INK,
      font: { family: 'DejaVu Serif', size: 19 },
      callback: v => fmt(v, a.dec)
    }
  };
}

function makeChart(left, top, datasets, scales) {
  const cv = document.createElement('canvas');
  cv.width = SIZE + PAD_L + PAD_R;
  cv.height = SIZE + PAD_T + PAD_B;
  cv.style.left = (left - PAD_L) + 'px';
  cv.style.top = (top - PAD_T) + 'px';
  page.appendChild(cv);
  new Chart(cv, {
    type: 'scatter',
    data: { datasets },
    options: {
      responsive: false, animation: false, devicePixelRatio: 1,
      layout: { padding: { left: 0, right: PAD_R, top: PAD_T, bottom: 0 } },
      plugins: { legend: { display: false }, tooltip: { enabled: false } },
      scales
    },
    plugins: [frame]
  });
}

const vline = (x, y0, y1, color, width, dash) => ({
  data: [{ x, y: y0 }, { x, y: y1 }], showLine: true, pointRadius: 0,
  borderColor: color, borderWidth: width, borderDash: dash || []
});
const hline = (y, x0, x1, color, width) => ({
  data: [{ x: x0, y }, { x: x1, y }], showLine: true, pointRadius: 0,
  borderColor: color, borderWidth: width
});

function histPanel(left, top, a, values, showLabels) {
  const w = (a.max - a.min) / values.length, steps = [];
  values.forEach((v, i) => {
    steps.push({ x: a.min + i * w, y: v }, { x: a.min + (i + 1) * w, y: v });
  });
  const sets = [vline(a.truth, 0, 110, RED, 2.6)];
  a.q.forEach(q => sets.push(vline(q, 0, 110, INK, 2.2, [7, 4])));
  sets.push({ data: steps, showLine: true, pointRadius: 0, borderColor: INK, borderWidth: 1.7 });
  makeChart(left, top, sets, {
    x: axisOpts(a, 'bottom', showLabels, true),
    y: {
      type: 'linear', position: 'left', min: 0, max: 110,
      afterFit: s => fitBox(s, false),
      border: { display: false },
      grid: { display: false },
      ticks: { display: false }
    }
  });
}

function pairPanel(left, top, ax, ay, cont, dark, light, isles, labelX, labelY, isleFill) {
  const sets = [
    { data: [{ x: ax.truth, y: ay.truth }], pointStyle: 'rect', pointRadius: 7.2, pointBackgroundColor: RED, pointBorderWidth: 0 },
    vline(ax.truth, ay.min, ay.max, RED, 2.6),
    hline(ay.truth, ax.min, ax.max, RED, 2.6)
  ];
  const poly = (flat, fill, stroke) => ({
    data: xy(closed(flat)), showLine: true, pointRadius: 0, fill: 'shape', tension: 0,
    backgroundColor: fill, borderColor: stroke ? '#000' : 'transparent', borderWidth: stroke ? 2.1 : 0
  });
  (isles || []).forEach(f => sets.push(poly(f, isleFill || '#efefef', true)));
  sets.push(poly(cont[3], FILLS[3], false));
  for (let i = 2; i >= 0; i--) sets.push(poly(cont[i], FILLS[i], true));
  sets.push({ data: xy(dark), pointRadius: 1.8, pointBackgroundColor: 'rgba(0,0,0,.62)', pointBorderWidth: 0 });
  sets.push({ data: xy(light), pointRadius: 1.8, pointBackgroundColor: 'rgba(0,0,0,.14)', pointBorderWidth: 0 });
  makeChart(left, top, sets, {
    x: axisOpts(ax, 'bottom', labelX, true),
    y: axisOpts(ay, 'left', labelY, false)
  });
}

function sym(a) {
  const lg = a.log ? '<span class="log">log</span>' : '';
  return lg + '<i>' + a.sym + '</i><sub>' + a.sub + '</sub>';
}
function put(cls, x, y, html) {
  const d = document.createElement('div');
  d.className = 'txt ' + cls;
  d.style.left = x + 'px';
  d.style.top = y + 'px';
  d.innerHTML = html;
  page.appendChild(d);
}
function title(left, top, a, val, hi, lo) {
  put('title', left + SIZE / 2, top - 31,
    sym(a) + ' = ' + val + '<span class="ss"><span>+' + hi + '</span><span>\u2212' + lo + '</span></span>');
}

// H-alpha corner
const colX = [100, 310, 520, 730, 940, 1150];
const rowY = [40, 250, 460, 670, 880, 1090];
const haAxes = [P.snr, P.anr, P.sun, P.aun, P.sexp, P.la];
const haHists = [hist_snr, hist_anr, hist_sun, hist_aun, hist_sexp, hist_la];
const haTitles = [['0.46','0.10','0.12'],['35.70','5.13','6.03'],['1.13','0.26','0.28'],['18.60','6.07','4.96'],['6.02','0.55','0.47'],['1.07','0.04','0.05']];
haAxes.forEach((a, i) => {
  histPanel(colX[i], rowY[i], a, haHists[i], i === 5);
  title(colX[i], rowY[i], a, haTitles[i][0], haTitles[i][1], haTitles[i][2]);
  put('xlab', colX[i] + 100, 1362, sym(a));
  if (i > 0) put('ylab', i === 5 ? 25 : 27, rowY[i] + 100, sym(a));
});
const haPairs = [
  [1, 0, cont_anr_snr, dark_anr_snr, light_anr_snr, []],
  [2, 0, cont_sun_snr, dark_sun_snr, light_sun_snr, []],
  [2, 1, cont_sun_anr, dark_sun_anr, light_sun_anr, [isle_sun_anr]],
  [3, 0, cont_aun_snr, dark_aun_snr, light_aun_snr, []],
  [3, 1, cont_aun_anr, dark_aun_anr, light_aun_anr, [isle_aun_anr]],
  [3, 2, cont_aun_sun, dark_aun_sun, light_aun_sun, [isle_aun_sun]],
  [4, 0, cont_sexp_snr, dark_sexp_snr, light_sexp_snr, []],
  [4, 1, cont_sexp_anr, dark_sexp_anr, light_sexp_anr, [isle_sexp_anr]],
  [4, 2, cont_sexp_sun, dark_sexp_sun, light_sexp_sun, [isle_sexp_sun]],
  [4, 3, cont_sexp_aun, dark_sexp_aun, light_sexp_aun, []],
  [5, 0, cont_la_snr, dark_la_snr, light_la_snr, []],
  [5, 1, cont_la_anr, dark_la_anr, light_la_anr, [isle_la_anr, isle2_la_anr]],
  [5, 2, cont_la_sun, dark_la_sun, light_la_sun, [isle_la_sun]],
  [5, 3, cont_la_aun, dark_la_aun, light_la_aun, []],
  [5, 4, cont_la_sexp, dark_la_sexp, light_la_sexp, []]
];
haPairs.forEach(p => {
  pairPanel(colX[p[1]], rowY[p[0]], haAxes[p[1]], haAxes[p[0]], p[2], p[3], p[4], p[5], p[0] === 5, p[1] === 0);
});

// two-parameter corners for the other lines
function smallCorner(x0, x1, y0, y1, ax, ay, hx, hy, cont, dark, light, isles, tx, ty, ylabX, xlabY, isleFill) {
  histPanel(x0, y0, ax, hx, false);
  histPanel(x1, y1, ay, hy, true);
  pairPanel(x0, y1, ax, ay, cont, dark, light, isles, true, true, isleFill);
  title(x0, y0, ax, tx[0], tx[1], tx[2]);
  title(x1, y1, ay, ty[0], ty[1], ty[2]);
  put('ylab', ylabX, y1 + 100, sym(ay));
  put('xlab', x0 + 100, xlabY, sym(ax));
  put('xlab', x1 + 100, xlabY, sym(ay));
}
smallCorner(940, 1150, 52, 262, P.anrB, P.abrB, hist_anr_b, hist_abr_b, cont_b, dark_b, light_b, [isle_b],
  ['0.22','0.05','0.04'], ['0.16','0.02','0.02'], 868, 535, '#666666');
smallCorner(1521, 1731, 55, 265, P.anrG, P.abrG, hist_anr_g, hist_abr_g, cont_g, dark_g, light_g, [],
  ['0.09','0.06','0.06'], ['0.03','0.03','0.03'], 1449, 537);
smallCorner(1524, 1734, 656, 866, P.anrD, P.abrD, hist_anr_d, hist_abr_d, cont_d, dark_d, light_d, [],
  ['\u22120.03','0.06','0.06'], ['0.07','0.04','0.04'], 1451, 1137);

put('head', 417, 42, 'H\u03b1');
put('head', 1253, 38, 'H\u03b2');
put('head', 1834, 39, 'H\u03b3');
put('head', 1837, 640, 'H\u03b4');
</script>
</body>
</html>
